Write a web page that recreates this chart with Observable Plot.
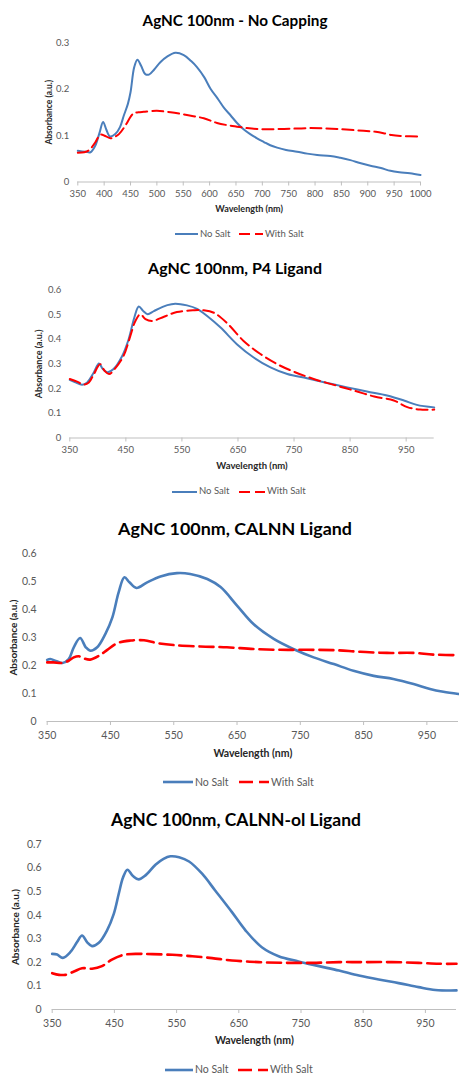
<!DOCTYPE html>
<html>
<head>
<meta charset="utf-8">
<script src="https://cdn.jsdelivr.net/npm/d3@7"></script>
<script src="https://cdn.jsdelivr.net/npm/@observablehq/plot@0.6"></script>
<style>
  body { margin: 0; background: #fff; }
  #root { position: relative; width: 459px; height: 1074px; overflow: hidden; font-family: Lato, "Open Sans", sans-serif; background: #fff; }
  .abs { position: absolute; white-space: nowrap; line-height: 1; }
  .abs svg { display: block; }
</style>
</head>
<body>
<div id="root"></div>
<script>
// ---------------- DATA ----------------
const seriesNames = ["No Salt", "With Salt"];
const panelTitles = [
  "AgNC 100nm - No Capping",
  "AgNC 100nm, P4 Ligand",
  "AgNC 100nm, CALNN Ligand",
  "AgNC 100nm, CALNN-ol Ligand"
];
const xAxisTitle = "Wavelength (nm)";
const yAxisTitle = "Absorbance (a.u.)";

const p1XTicks = [350, 400, 450, 500, 550, 600, 650, 700, 750, 800, 850, 900, 950, 1000];
const p1YTicks = [0, 0.1, 0.2, 0.3];
const p2XTicks = [350, 450, 550, 650, 750, 850, 950];
const p2YTicks = [0, 0.1, 0.2, 0.3, 0.4, 0.5, 0.6];
const p3XTicks = [350, 450, 550, 650, 750, 850, 950];
const p3YTicks = [0, 0.1, 0.2, 0.3, 0.4, 0.5, 0.6];
const p4XTicks = [350, 450, 550, 650, 750, 850, 950];
const p4YTicks = [0, 0.1, 0.2, 0.3, 0.4, 0.5, 0.6, 0.7];

// Panel 1 - No Capping
const p1NoSaltWl  = [350,365,374,383,391,398,404,411,421,430,437,445,450,457,463,470,478,485,495,507,520,535,551,565,576,590,602,615,627,640,652,665,677,690,703,715,728,745,766,785,804,829,848,867,885,905,925,943,960,980,1000];
const p1NoSaltAbs = [0.067,0.065,0.064,0.078,0.105,0.129,0.113,0.098,0.103,0.118,0.142,0.168,0.193,0.247,0.263,0.250,0.232,0.231,0.242,0.258,0.270,0.278,0.273,0.260,0.247,0.225,0.200,0.180,0.160,0.143,0.127,0.113,0.103,0.094,0.086,0.079,0.074,0.069,0.065,0.061,0.058,0.056,0.052,0.047,0.041,0.035,0.030,0.024,0.021,0.019,0.015];
const p1SaltWl  = [350,362,371,383,393,402,412,420,428,440,450,456,465,475,500,526,557,589,614,635,652,670,690,741,791,842,892,915,930,945,962,1000];
const p1SaltAbs = [0.063,0.064,0.068,0.085,0.102,0.099,0.094,0.097,0.103,0.121,0.140,0.148,0.150,0.151,0.153,0.150,0.144,0.137,0.127,0.122,0.119,0.116,0.114,0.114,0.116,0.114,0.110,0.108,0.105,0.101,0.099,0.098];

// Panel 2 - P4 Ligand
const p2NoSaltWl  = [350,360,372,381,393,402,409,417,428,443,455,465,473,481,489,500,524,538,559,577,595,619,648,678,708,738,773,809,845,880,916,946,969,1000];
const p2NoSaltAbs = [0.235,0.225,0.216,0.225,0.266,0.302,0.279,0.266,0.279,0.330,0.400,0.487,0.532,0.514,0.501,0.514,0.538,0.544,0.537,0.523,0.494,0.447,0.380,0.326,0.286,0.259,0.242,0.223,0.205,0.188,0.172,0.152,0.134,0.124];
const p2SaltWl  = [350,363,375,384,393,404,412,420,431,446,458,467,476,485,497,518,541,571,589,607,631,660,690,720,750,785,821,857,893,928,952,975,1000];
const p2SaltAbs = [0.239,0.228,0.216,0.225,0.259,0.299,0.272,0.259,0.282,0.333,0.413,0.474,0.501,0.481,0.474,0.491,0.510,0.517,0.517,0.507,0.464,0.393,0.340,0.299,0.268,0.239,0.215,0.192,0.168,0.152,0.125,0.115,0.115];

// Panel 3 - CALNN Ligand
const p3NoSaltWl  = [350,355,365,374,384,392,402,411,418,429,442,453,463,472,480,491,508,529,555,576,603,624,650,676,708,739,771,803,834,866,897,929,955,976,1000];
const p3NoSaltAbs = [0.220,0.223,0.215,0.209,0.223,0.265,0.298,0.265,0.253,0.265,0.313,0.372,0.462,0.515,0.497,0.477,0.497,0.518,0.530,0.527,0.509,0.480,0.414,0.348,0.295,0.259,0.229,0.205,0.181,0.163,0.152,0.134,0.116,0.106,0.098];
const p3SaltWl  = [350,360,374,384,392,400,408,418,432,445,461,482,503,524,550,592,634,676,718,760,803,845,887,929,960,1000];
const p3SaltAbs = [0.211,0.211,0.209,0.217,0.229,0.233,0.225,0.221,0.235,0.256,0.280,0.289,0.290,0.280,0.273,0.268,0.265,0.259,0.256,0.256,0.255,0.249,0.245,0.245,0.239,0.237];

// Panel 4 - CALNN-ol Ligand
const p4NoSaltWl  = [350,358,367,379,390,398,406,414,425,438,449,457,464,471,480,489,500,516,529,540,554,570,591,612,639,661,687,714,746,779,811,843,875,907,939,966,1000];
const p4NoSaltAbs = [0.236,0.233,0.219,0.243,0.286,0.314,0.286,0.269,0.283,0.335,0.406,0.491,0.561,0.593,0.566,0.552,0.569,0.614,0.639,0.650,0.646,0.628,0.576,0.505,0.413,0.335,0.264,0.226,0.204,0.184,0.165,0.144,0.127,0.112,0.095,0.083,0.081];
const p4SaltWl  = [350,361,371,385,398,414,430,446,465,489,511,543,575,607,639,682,725,768,811,853,896,939,971,1000];
const p4SaltAbs = [0.154,0.147,0.147,0.161,0.175,0.173,0.184,0.212,0.232,0.236,0.235,0.232,0.226,0.218,0.208,0.201,0.198,0.198,0.201,0.201,0.201,0.198,0.194,0.194];

// ---------------- LAYOUT ----------------
const blue = "#4a7ebb", red = "#ff0000";
const panels = [
  { title: panelTitles[0], titleCY: 20.6, titleCX: 235, titleW: 185, xTicks: p1XTicks, yTicks: p1YTicks, yMax: 0.3,
    noWl: p1NoSaltWl, noAbs: p1NoSaltAbs, saWl: p1SaltWl, saAbs: p1SaltAbs,
    svgTop: 30, svgBottom: 225, x0px: 77.3, x1px: 420, y0px: 181.5, yMaxPx: 42,
    tickFont: 9.5, xTickSize: 4, xTickPad: 4, yTickPad: 8.5, axisFont: 9, xLabelY: 209, yLabelX: 49, yLabelFont: 8.5,
    lineW: 2, dash: "11,5", legendY: 234, legendFont: 9.5, legend: [[175, 198, 200], [239, 263, 265]] },
  { title: panelTitles[1], titleCY: 268, titleCX: 235, titleW: 174, xTicks: p2XTicks, yTicks: p2YTicks, yMax: 0.6,
    noWl: p2NoSaltWl, noAbs: p2NoSaltAbs, saWl: p2SaltWl, saAbs: p2SaltAbs,
    svgTop: 278, svgBottom: 475, x0px: 69.3, x1px: 433.7, y0px: 437.5, yMaxPx: 289.3,
    tickFont: 9.5, xTickSize: 4, xTickPad: 4.5, yTickPad: 8.5, axisFont: 9.5, xLabelY: 465, yLabelX: 39, yLabelFont: 9,
    lineW: 2, dash: "11,5", legendY: 491.5, legendFont: 9.5, legend: [[172, 197, 199], [239, 265, 267]] },
  { title: panelTitles[2], titleCY: 529, titleCX: 235, titleW: 234, xTicks: p3XTicks, yTicks: p3YTicks, yMax: 0.6,
    noWl: p3NoSaltWl, noAbs: p3NoSaltAbs, saWl: p3SaltWl, saAbs: p3SaltAbs,
    svgTop: 540, svgBottom: 765, x0px: 46.7, x1px: 458, y0px: 721, yMaxPx: 553,
    tickFont: 10.5, xTickSize: 4, xTickPad: 6, yTickPad: 10.5, axisFont: 10.5, xLabelY: 752.7, yLabelX: 13.3, yLabelFont: 10,
    lineW: 2.6, dash: "14,6", legendY: 782.3, legendFont: 10.5, legend: [[163, 193, 195], [239, 269, 271]] },
  { title: panelTitles[3], titleCY: 820.5, titleCX: 236, titleW: 250, xTicks: p4XTicks, yTicks: p4YTicks, yMax: 0.7,
    noWl: p4NoSaltWl, noAbs: p4NoSaltAbs, saWl: p4SaltWl, saAbs: p4SaltAbs,
    svgTop: 835, svgBottom: 1055, x0px: 51.7, x1px: 456, y0px: 1009, yMaxPx: 844,
    tickFont: 10.5, xTickSize: 4, xTickPad: 6, yTickPad: 10.5, axisFont: 10.5, xLabelY: 1040, yLabelX: 15, yLabelFont: 10,
    lineW: 2.6, dash: "14,6", legendY: 1070, legendFont: 10.5, legend: [[165, 193, 195], [238, 268, 270]] }
];

const root = document.getElementById("root");
const FONT = "Lato";
const canvas = document.createElement("canvas");
const ctx = canvas.getContext("2d");
function fitSize(text, weight, target) {
  ctx.font = `${weight} 100px ${FONT}`;
  const w = ctx.measureText(text).width;
  return 100 * target / w;
}
function addText(text, {cx, left, cy, size, weight = "normal", color = "#000"}) {
  const d = document.createElement("div");
  d.className = "abs";
  d.textContent = text;
  d.style.fontSize = size + "px";
  d.style.fontWeight = weight;
  d.style.color = color;
  d.style.fontFamily = FONT;
  d.style.top = (cy - 0.53 * size) + "px";
  if (cx !== undefined) { d.style.left = cx + "px"; d.style.transform = "translateX(-50%)"; }
  else d.style.left = left + "px";
  root.appendChild(d);
}
function addSample(x0, x1, y, color, width, dash) {
  const d = document.createElement("div");
  d.className = "abs";
  d.style.left = x0 + "px";
  d.style.top = (y - 5) + "px";
  const w = x1 - x0;
  d.innerHTML = `<svg width="${w}" height="10"><line x1="0" x2="${w}" y1="5" y2="5" stroke="${color}" stroke-width="${width}" ${dash ? `stroke-dasharray="${dash}"` : ""}/></svg>`;
  root.appendChild(d);
}

const fmt = d => d === 0 ? "0" : d.toFixed(1);

panels.forEach(P => {
  addText(P.title, {cx: P.titleCX, cy: P.titleCY, size: fitSize(P.title, "bold", P.titleW), weight: "bold", color: "#000"});

  const noRows = P.noWl.map((w, i) => ({wl: w, abs: P.noAbs[i], s: seriesNames[0]}));
  const saRows = P.saWl.map((w, i) => ({wl: w, abs: P.saAbs[i], s: seriesNames[1]}));
  const W = 459, H = P.svgBottom - P.svgTop;
  const plot = Plot.plot({
    width: W, height: H,
    marginLeft: P.x0px, marginRight: W - P.x1px,
    marginTop: P.yMaxPx - P.svgTop, marginBottom: P.svgBottom - P.y0px,
    style: {fontFamily: FONT, background: "transparent", overflow: "visible"},
    x: {domain: [350, 1000]},
    y: {domain: [0, P.yMax]},
    marks: [
      Plot.ruleY([0], {stroke: "#bfbfbf", strokeWidth: 1}),
      Plot.axisX({ticks: P.xTicks, tickSize: P.xTickSize, tickPadding: P.xTickPad, stroke: "#bfbfbf", fill: "#595959", fontSize: P.tickFont, label: null, tickFormat: d => String(d)}),
      Plot.axisY({ticks: P.yTicks, tickSize: 0, tickPadding: P.yTickPad, fill: "#595959", fontSize: P.tickFont, label: null, tickFormat: fmt}),
      Plot.line(noRows, {x: "wl", y: "abs", stroke: blue, strokeWidth: P.lineW, curve: "catmull-rom", strokeLinejoin: "round"}),
      Plot.line(saRows, {x: "wl", y: "abs", stroke: red, strokeWidth: P.lineW, strokeDasharray: P.dash, curve: "catmull-rom"}),
      Plot.text([xAxisTitle], {text: d => d, frameAnchor: "bottom", dy: P.xLabelY - P.y0px, lineAnchor: "middle", fontWeight: "bold", fontSize: P.axisFont, fill: "#262626"}),
      Plot.text([yAxisTitle], {text: d => d, frameAnchor: "left", dx: P.yLabelX - P.x0px, rotate: -90, lineAnchor: "middle", textAnchor: "middle", fontWeight: "bold", fontSize: P.yLabelFont, fill: "#262626"})
    ]
  });
  const holder = document.createElement("div");
  holder.className = "abs";
  holder.style.left = "0px";
  holder.style.top = P.svgTop + "px";
  holder.appendChild(plot);
  root.appendChild(holder);

  const [a, b] = P.legend;
  addSample(a[0], a[1], P.legendY, blue, P.lineW, null);
  addText(seriesNames[0], {left: a[2], cy: P.legendY, size: P.legendFont, color: "#595959"});
  addSample(b[0], b[1], P.legendY, red, P.lineW, P.dash);
  addText(seriesNames[1], {left: b[2], cy: P.legendY, size: P.legendFont, color: "#595959"});
});
</script>
</body>
</html>
